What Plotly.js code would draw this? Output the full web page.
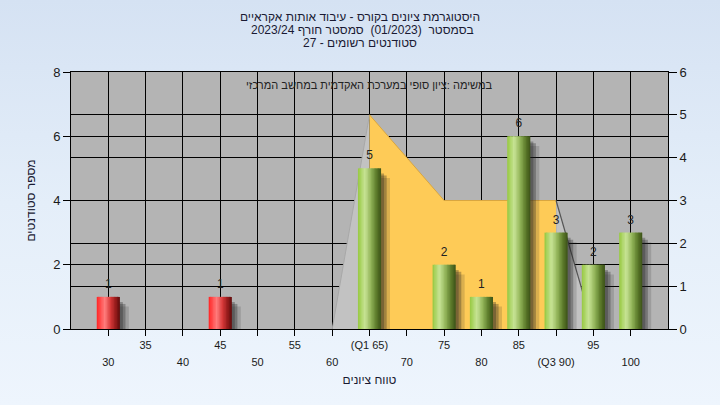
<!DOCTYPE html>
<html>
<head>
<meta charset="utf-8">
<script src="https://cdn.plot.ly/plotly-3.0.1.min.js"></script>
<style>
  html, body { margin: 0; padding: 0; }
  body { width: 720px; height: 405px; background: linear-gradient(180deg, #d5e2f3 0%, #e4eef9 50%, #eef5fd 100%); }
  #chart { width: 720px; height: 405px; }
</style>
</head>
<body>
<div id="chart"></div>
<script>
// ---- data ----
const categories = [30, 35, 40, 45, 50, 55, 60, 65, 70, 75, 80, 85, 90, 95, 100];
const tickLabels = ['30', '35', '40', '45', '50', '55', '60', '(Q1 65)', '70', '75', '80', '85', '(Q3 90)', '95', '100'];
const failX = [30, 45];
const failCounts = [1, 1];
const passX = [65, 75, 80, 85, 90, 95, 100];
const passCounts = [5, 2, 1, 6, 3, 2, 3];
const profileX = [60, 65, 75, 90, 95];
const profileY = [0, 5, 3, 3, 0];
const titleLine1 = 'היסטוגרמת ציונים בקורס - עיבוד אותות אקראיים';
const titleLine2 = 'בסמסטר  (01/2023)  סמסטר חורף 2023/24';
const titleLine3 = 'סטודנטים רשומים - 27';
const noteText = 'במשימה :ציון סופי במערכת האקדמית במחשב המרכזי';
const xTitle = 'טווח ציונים';
const yTitle = 'מספר סטודנטים';

// ---- styling helpers ----
const FONT = '"Liberation Sans", Arial, "DejaVu Sans", sans-serif';
const TXT = '#1a1a33';
const BAR_W = 3.1;
const N_STRIPES = 16;
const greenStops = [[0, [150, 200, 64]], [0.3, [200, 228, 150]], [0.55, [148, 182, 90]], [0.8, [92, 122, 42]], [1, [60, 82, 24]]];
const redStops = [[0, [255, 36, 36]], [0.35, [255, 125, 125]], [0.6, [214, 56, 56]], [0.85, [140, 24, 24]], [1, [92, 12, 12]]];

function interp(stops, f) {
  for (let i = 0; i < stops.length - 1; i++) {
    const a = stops[i], b = stops[i + 1];
    if (f >= a[0] && f <= b[0]) {
      const t = (f - a[0]) / (b[0] - a[0]);
      const c = a[1].map((v, k) => Math.round(v + (b[1][k] - v) * t));
      return 'rgb(' + c.join(',') + ')';
    }
  }
  return 'rgb(' + stops[stops.length - 1][1].join(',') + ')';
}

function shadowTraces(xs, ys) {
  return [
    { type: 'bar', x: xs, y: ys, base: -0.3, offset: -BAR_W / 2 + 1.2, width: BAR_W, xaxis: 'x', yaxis: 'y2',
      marker: { color: 'rgba(30,30,30,0.16)', line: { width: 0 } }, hoverinfo: 'skip', showlegend: false },
    { type: 'bar', x: xs, y: ys, base: -0.22, offset: -BAR_W / 2 + 0.75, width: BAR_W, xaxis: 'x', yaxis: 'y2',
      marker: { color: 'rgba(30,30,30,0.3)', line: { width: 0 } }, hoverinfo: 'skip', showlegend: false },
    { type: 'bar', x: xs, y: ys, base: -0.16, offset: -BAR_W / 2 + 0.4, width: BAR_W, xaxis: 'x', yaxis: 'y2',
      marker: { color: 'rgba(30,30,30,0.3)', line: { width: 0 } }, hoverinfo: 'skip', showlegend: false }
  ];
}

function stripeTraces(xs, ys, stops) {
  const s = BAR_W / N_STRIPES;
  const out = [];
  for (let i = 0; i < N_STRIPES; i++) {
    out.push({
      type: 'bar', x: xs, y: ys, xaxis: 'x', yaxis: 'y2',
      offset: -BAR_W / 2 + i * s, width: i < N_STRIPES - 1 ? s * 1.6 : s,
      marker: { color: interp(stops, (i + 0.5) / N_STRIPES), line: { width: 0 } },
      hoverinfo: 'skip', showlegend: false
    });
  }
  return out;
}

const traces = [];
// profile area (right axis, main subplot -> drawn beneath bars)
traces.push({ type: 'scatter', mode: 'lines', x: profileX.slice(0, 2), y: profileY.slice(0, 2), xaxis: 'x', yaxis: 'y',
  fill: 'tozeroy', fillcolor: '#c2c2c2', line: { color: '#a8a8a8', width: 1 }, hoverinfo: 'skip', showlegend: false });
traces.push({ type: 'scatter', mode: 'lines', x: profileX.slice(1, 4), y: profileY.slice(1, 4), xaxis: 'x', yaxis: 'y',
  fill: 'tozeroy', fillcolor: '#fecb57', line: { color: '#d9a640', width: 1 }, hoverinfo: 'skip', showlegend: false });
traces.push({ type: 'scatter', mode: 'lines', x: profileX.slice(3, 5), y: profileY.slice(3, 5), xaxis: 'x', yaxis: 'y',
  fill: 'tozeroy', fillcolor: '#c2c2c2', line: { color: '#555555', width: 1.2 }, hoverinfo: 'skip', showlegend: false });

shadowTraces(failX, failCounts).forEach(t => traces.push(t));
shadowTraces(passX, passCounts).forEach(t => traces.push(t));
stripeTraces(failX, failCounts, redStops).forEach(t => traces.push(t));
stripeTraces(passX, passCounts, greenStops).forEach(t => traces.push(t));

// value labels
traces.push({ type: 'scatter', mode: 'markers+text', x: failX.concat(passX), y: failCounts.concat(passCounts),
  text: failCounts.concat(passCounts).map(String), textposition: 'top center', xaxis: 'x2', yaxis: 'y2',
  marker: { size: 8, color: 'rgba(0,0,0,0)' },
  textfont: { family: FONT, size: 12, color: '#222222' }, hoverinfo: 'skip', showlegend: false, cliponaxis: false });

const row2Vals = categories.filter((v, i) => i % 2 === 0);
const row2Text = tickLabels.filter((v, i) => i % 2 === 0);

const layout = {
  width: 720, height: 405,
  margin: { l: 71, r: 52, t: 72, b: 76 },
  paper_bgcolor: 'rgba(0,0,0,0)',
  plot_bgcolor: '#b4b4b4',
  barmode: 'overlay',
  showlegend: false,
  font: { family: FONT, color: '#1a1a1a' },
  title: { text: titleLine1, font: { family: FONT, size: 12, color: TXT },
    x: 0.5, xanchor: 'center', xref: 'container', y: 1 - 17 / 405, yref: 'container', yanchor: 'middle' },
  xaxis: {
    range: [25, 105], tickmode: 'array', tickvals: categories,
    ticktext: categories.map((v, i) => i % 2 === 1 ? tickLabels[i] : ''),
    ticks: 'outside', ticklen: 6, tickcolor: '#000', tickwidth: 1,
    showgrid: true, gridcolor: '#000', gridwidth: 1,
    showline: true, linecolor: '#000', linewidth: 1, mirror: true, zeroline: false,
    tickfont: { family: FONT, size: 11, color: '#1a1a1a' },
    title: { text: xTitle, font: { family: FONT, size: 12, color: TXT }, standoff: 25 }
  },
  xaxis2: {
    overlaying: 'x', anchor: 'y', side: 'bottom', range: [25, 105],
    tickmode: 'array', tickvals: row2Vals, ticktext: row2Text,
    ticks: '', showgrid: false, showline: false, zeroline: false, ticklabelstandoff: 25,
    tickfont: { family: FONT, size: 11, color: '#1a1a1a' }
  },
  yaxis: {
    side: 'right', range: [0, 6], dtick: 1, tickmode: 'linear', tick0: 0,
    ticks: 'outside', ticklen: 8, tickcolor: '#000',
    showgrid: true, gridcolor: '#000', gridwidth: 1,
    showline: true, linecolor: '#000', zeroline: false,
    tickfont: { family: FONT, size: 13, color: '#1a1a1a' }
  },
  yaxis2: {
    overlaying: 'y', side: 'left', range: [0, 8], dtick: 2, tickmode: 'linear', tick0: 0,
    ticks: 'outside', ticklen: 7, tickcolor: '#000',
    showgrid: true, gridcolor: '#000', gridwidth: 1,
    showline: true, linecolor: '#000', zeroline: false,
    tickfont: { family: FONT, size: 13, color: '#1a1a1a' },
    title: { text: yTitle, font: { family: FONT, size: 12, color: TXT }, standoff: 14 }
  },
  annotations: [
    { text: titleLine2, xref: 'paper', yref: 'paper', x: (362 - 71) / 597, y: (329 - 30) / 257,
      xanchor: 'center', yanchor: 'middle', showarrow: false, font: { family: FONT, size: 12, color: TXT } },
    { text: titleLine3, xref: 'paper', yref: 'paper', x: (360 - 71) / 597, y: (329 - 43) / 257,
      xanchor: 'center', yanchor: 'middle', showarrow: false, font: { family: FONT, size: 12, color: TXT } },
    { text: noteText, xref: 'paper', yref: 'paper', x: 0.5, y: 1, yshift: -13,
      xanchor: 'center', yanchor: 'middle', showarrow: false,
      font: { family: FONT, size: 11, color: '#222222' } }
  ]
};

Plotly.newPlot('chart', traces, layout, { displayModeBar: false, staticPlot: true });
</script>
</body>
</html>
